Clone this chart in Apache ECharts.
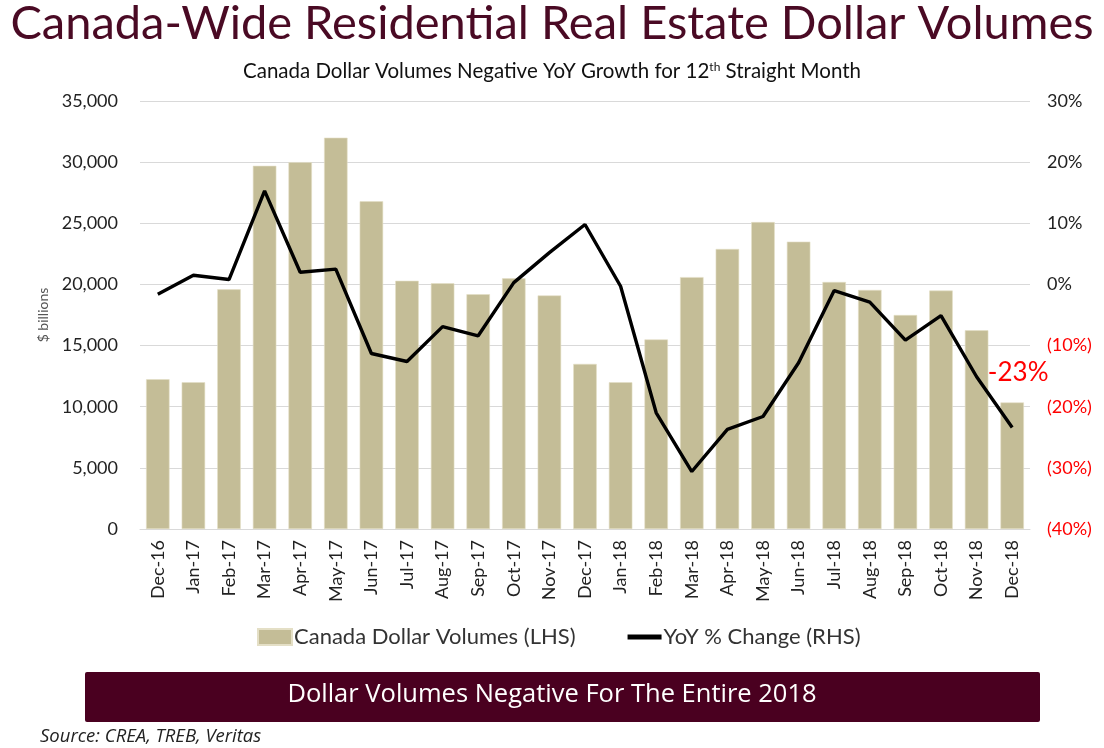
<!DOCTYPE html>
<html><head><meta charset="utf-8">
<script src="https://cdn.jsdelivr.net/npm/echarts@6/dist/echarts.min.js"></script>
<style>html,body{margin:0;padding:0;background:#fff}#c{width:1104px;height:748px}</style>
</head><body><div id="c"></div>
<script>
const categories = ['Dec-16','Jan-17','Feb-17','Mar-17','Apr-17','May-17','Jun-17','Jul-17','Aug-17','Sep-17','Oct-17','Nov-17','Dec-17','Jan-18','Feb-18','Mar-18','Apr-18','May-18','Jun-18','Jul-18','Aug-18','Sep-18','Oct-18','Nov-18','Dec-18'];
const volumes = [12250,12000,19600,29700,30000,32000,26800,20300,20100,19200,20500,19100,13500,12000,15500,20600,22900,25100,23500,20200,19550,17500,19500,16250,10350];
const yoy = [-1.6,1.5,0.8,15.3,2.0,2.5,-11.3,-12.6,-6.9,-8.4,0.3,5.2,9.8,-0.3,-21.0,-30.6,-23.7,-21.6,-12.8,-1.0,-2.9,-9.1,-5.1,-15.1,-23.4];
const leftTicks = {min:0, max:35000, interval:5000};
const rightTicks = {min:-40, max:30, interval:10};
const seriesNames = ['Canada Dollar Volumes (LHS)','YoY % Change (RHS)'];
const lastLabel = '-23%';

const chart = echarts.init(document.getElementById('c'));
const F = 'Lato, "Noto Sans", sans-serif';
const last = yoy.length-1;
chart.setOption({
  animation:false,
  title:[
    {text:'Canada-Wide Residential Real Estate Dollar Volumes', left:'center', top:-5, textStyle:{fontFamily:F, fontWeight:'normal', fontSize:47, color:'#4a0a24'}},
    {text:'Canada Dollar Volumes Negative YoY Growth for 12{sup|th} Straight Month', left:'center', top:56, textStyle:{fontFamily:F, fontWeight:'normal', fontSize:20.5, color:'#111', rich:{sup:{fontSize:12, verticalAlign:'top', padding:[0,0,9,0], fontFamily:F, color:'#111'}}}}
  ],
  grid:{left:140, right:74, top:101, bottom:219},
  legend:{top:621, left:252, itemGap:52, itemWidth:34, itemHeight:16, textStyle:{fontFamily:F, fontSize:22, color:'#333', padding:[0,0,0,-3]},
    data:[{name:seriesNames[0], icon:'rect'}, {name:seriesNames[1], icon:'path://M0,0 M0,5.5 L34,5.5 L34,10.5 L0,10.5 Z M34,16', itemStyle:{color:'#000'}}]},
  xAxis:{type:'category', data:categories, axisLine:{lineStyle:{color:'#d9d9d9'}}, axisTick:{show:false},
    axisLabel:{rotate:90, interval:0, fontFamily:F, fontSize:18, color:'#222', margin:11}},
  yAxis:[
    {type:'value', min:leftTicks.min, max:leftTicks.max, interval:leftTicks.interval, name:'$ billions', nameLocation:'middle', nameGap:85, nameTextStyle:{fontFamily:F, fontSize:14, color:'#555'},
     axisLabel:{fontFamily:F, fontSize:18, color:'#222', margin:22, formatter:v=>v.toLocaleString('en-US')},
     splitLine:{lineStyle:{color:'#d9d9d9'}}, axisLine:{show:false}, axisTick:{show:false}},
    {type:'value', min:rightTicks.min, max:rightTicks.max, interval:rightTicks.interval, position:'right',
     axisLabel:{fontFamily:F, fontSize:18, margin:17, formatter:v=> v<0 ? '{n|('+(-v)+'%)}' : '{p|'+v+'%}', rich:{n:{color:'#ff0000', fontFamily:F, fontSize:18}, p:{color:'#222', fontFamily:F, fontSize:18}}},
     splitLine:{show:false}, axisLine:{show:false}, axisTick:{show:false}}
  ],
  series:[
    {name:seriesNames[0], type:'bar', data:volumes, barCategoryGap:'34%', itemStyle:{color:'#c4bd97', borderColor:'#e4dfc6', borderWidth:0.6}},
    {name:seriesNames[1], type:'line', yAxisIndex:1, data:yoy, symbol:'none', lineStyle:{color:'#000', width:3.4}, itemStyle:{color:'#000'},
     markPoint:{symbol:'circle', symbolSize:0, silent:true,
       data:[{coord:[categories[last], yoy[last]], value:yoy[last]}],
       label:{show:true, formatter:lastLabel, color:'#ff0000', fontSize:26, fontFamily:F, position:'top', offset:[6,-37]}}}
  ],
  graphic:[
    {type:'rect', left:85, top:672, shape:{width:955, height:50, r:2}, style:{fill:'#4a0020'}},
    {type:'text', left:'center', top:682, style:{text:'Dollar Volumes Negative For The Entire 2018', fill:'#fff', font:'25.5px "Open Sans", sans-serif'}},
    {type:'text', left:40, top:727, style:{text:'Source: CREA, TREB, Veritas', fill:'#222', font:'italic 18.5px "Open Sans", sans-serif'}}
  ]
});
</script></body></html>
